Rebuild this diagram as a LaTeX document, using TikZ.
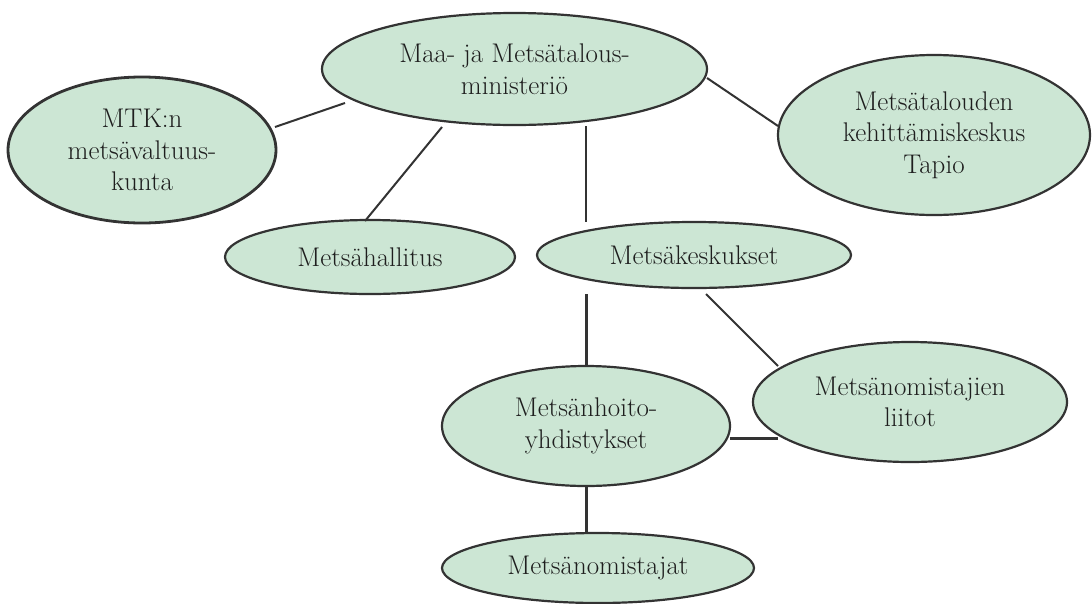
\documentclass[tikz,border=0pt]{standalone}
\usepackage{fontspec}
\usetikzlibrary{shapes.geometric}
\definecolor{ovalfill}{RGB}{204,230,212}
\definecolor{linec}{RGB}{51,51,51}
\definecolor{textc}{RGB}{30,30,30}
\tikzset{
  oval/.style={ellipse, draw=linec, fill=ovalfill, line width=2.2pt, inner sep=0pt,
    align=center, text=textc, font=\fontsize{27}{31.5}\selectfont},
  thinlink/.style={draw=linec, line width=2pt},
  thicklink/.style={draw=linec, line width=3pt}
}
\begin{document}
\begin{tikzpicture}[x=1pt,y=-1pt]
\useasboundingbox (0,0) rectangle (1092,603);
% nodes
\node[oval, minimum width=385pt, minimum height=112pt] (maa) at (514.5,69) {Maa- ja Metsätalous-\\ministeriö};
\node[oval, line width=2.8pt, minimum width=268pt, minimum height=146pt] (mtk) at (142,150) {MTK:n\\metsävaltuus-\\kunta};
\node[oval, minimum width=312pt, minimum height=160pt] (tapio) at (934,135) {Metsätalouden\\kehittämiskeskus\\Tapio};
\node[oval, minimum width=290pt, minimum height=74pt] (hall) at (370,257) {Metsähallitus};
\node[oval, minimum width=314pt, minimum height=66pt] (kesk) at (694,255) {Metsäkeskukset};
\node[oval, minimum width=288pt, minimum height=120pt] (hoito) at (586,426) {Metsänhoito-\\yhdistykset};
\node[oval, minimum width=314pt, minimum height=120pt] (liitot) at (910,402) {Metsänomistajien\\liitot};
\node[oval, minimum width=312pt, minimum height=70pt] (omist) at (598,568) {Metsänomistajat};
% connector end points
\coordinate (mtkA) at (275,127);   \coordinate (maaA) at (345,103);
\coordinate (hallA) at (365,221);  \coordinate (maaB) at (442,127);
\coordinate (maaC) at (586,126);   \coordinate (keskA) at (586,222);
\coordinate (maaD) at (707,78);    \coordinate (tapioA) at (778,126);
\coordinate (keskB) at (586,294);  \coordinate (hoitoA) at (586,365);
\coordinate (keskC) at (706,294);  \coordinate (liitotA) at (778,366);
\coordinate (hoitoB) at (730,438); \coordinate (liitotB) at (778,438);
\coordinate (hoitoC) at (586,486); \coordinate (omistA) at (586,533);
% connectors
\draw[thinlink] (mtkA) -- (maaA);
\draw[thinlink] (hallA) -- (maaB);
\draw[thinlink] (maaC) -- (keskA);
\draw[thinlink] (maaD) -- (tapioA);
\draw[thicklink] (keskB) -- (hoitoA);
\draw[thinlink] (keskC) -- (liitotA);
\draw[thicklink] (hoitoB) -- (liitotB);
\draw[thicklink] (hoitoC) -- (omistA);
\end{tikzpicture}
\end{document}
